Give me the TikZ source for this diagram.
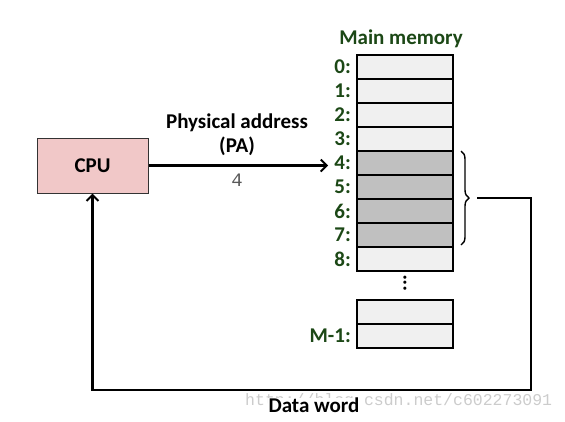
\documentclass[tikz,border=0pt]{standalone}
\usepackage{fontspec}
\setmainfont{Carlito}
\newfontfamily\monof{Liberation Mono}
\usetikzlibrary{arrows.meta,decorations.pathreplacing}
\definecolor{lblgreen}{RGB}{28,72,22}
\definecolor{cellfill}{RGB}{240,240,240}
\definecolor{cellgray}{RGB}{192,192,192}
\definecolor{cpufill}{RGB}{241,200,200}
\tikzset{
  cell/.style={draw=black,line width=1.8pt,fill=cellfill,minimum width=96pt,minimum height=24pt,inner sep=0pt,anchor=north west},
  gcell/.style={cell,fill=cellgray},
  lbl/.style={font=\fontsize{21}{24}\selectfont\bfseries,text=lblgreen,anchor=east,inner sep=0pt},
  txt/.style={font=\fontsize{21}{24}\selectfont\bfseries,inner sep=0pt},
  conn/.style={line width=2.2pt,-{Straight Barb[length=6pt,width=12pt,line width=2pt]}},
  wire/.style={line width=2.2pt}
}
\begin{document}
\begin{tikzpicture}[x=1pt,y=-1pt]
\useasboundingbox (0,0) rectangle (565,421);
% watermark
\node[font=\monof\fontsize{16.5}{18}\selectfont,text=black!20,anchor=west,inner sep=0pt] (wm) at (245,401) {http://blog.csdn.net/c602273091};
% title
\node[txt,text=lblgreen] (title) at (401,39) {Main memory};
% cells
\foreach \i in {0,1,2,3,8}{
  \node[cell] (m\i) at (356,{54+24*\i}) {};
}
\foreach \i in {4,5,6,7}{
  \node[gcell] (m\i) at (356,{54+24*\i}) {};
}
\foreach \i in {0,...,8}{
  \node[lbl] (l\i) at (351,{67+24*\i}) {\i:};
}
\node[font=\fontsize{21}{24}\selectfont\bfseries,inner sep=0pt] (dots) at (405,283) {\rotatebox{90}{...}};
\node[cell] (mA) at (356,299) {};
\node[cell] (mB) at (356,323) {};
\node[lbl] (lM) at (351,336) {M-1:};
% CPU
\node[draw=black!80,line width=1pt,fill=cpufill,minimum width=111pt,minimum height=55pt,inner sep=0pt] (cpu) at (92.5,165.5) {};
\node[txt] (cputxt) at (cpu.center) {CPU};
% address arrow
\node[txt] (pa1) at (237,123) {Physical address};
\node[txt] (pa2) at (237,146) {(PA)};
\node[font=\monof\fontsize{19}{21}\selectfont,text=black!65,inner sep=0pt] (four) at (237,180) {4};
\draw[conn] (cpu.east) -- ([xshift=-6pt]cpu.east -| l4.west);
% brace
\draw[line width=1.4pt,decorate,decoration={brace,amplitude=8pt}] (461,151) -- (461,245);
\coordinate (bt) at (477,198);
\coordinate (c1) at (531,390);
\draw[conn] (bt) -| (c1) -| (cpu.south);
\node[txt,fill=white,inner xsep=1pt,inner ysep=0pt] (dw) at (314,405) {Data word};
\end{tikzpicture}
\end{document}
